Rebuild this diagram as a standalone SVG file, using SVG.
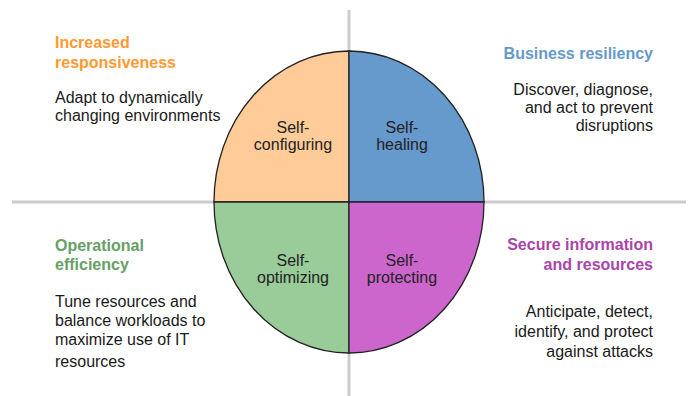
<svg xmlns="http://www.w3.org/2000/svg" width="691" height="396" viewBox="0 0 691 396">
  <style>
    .axis { stroke: #cccccc; stroke-width: 3; fill: none; }
    .quad { stroke: #222222; stroke-width: 1.3; }
    .label { font-family: "Liberation Sans", Arial, sans-serif; font-size: 16px; fill: #222222; text-anchor: middle; }
    .title { font-family: "Liberation Sans", Arial, sans-serif; font-size: 16px; font-weight: bold; }
    .body { font-family: "Liberation Sans", Arial, sans-serif; font-size: 16px; fill: #1a1a1a; }
    .end { text-anchor: end; }
  </style>
  <rect width="691" height="396" fill="#ffffff"/>

  <!-- axes behind the wheel -->
  <g id="connectors">
    <line class="axis" x1="349" y1="10" x2="349" y2="396"/>
    <line class="axis" x1="12" y1="202" x2="686" y2="202"/>
  </g>

  <!-- wheel quadrants: center (349,202), rx 135, ry 151 -->
  <g id="self-configuring">
    <path class="quad" fill="#ffcc99" d="M349,202 L214,202 A135,151 0 0 1 349,51 Z"/>
    <text class="label" x="293" y="133">Self-</text>
    <text class="label" x="293" y="150">configuring</text>
  </g>
  <g id="self-healing">
    <path class="quad" fill="#6699cc" d="M349,202 L349,51 A135,151 0 0 1 484,202 Z"/>
    <text class="label" x="402" y="133">Self-</text>
    <text class="label" x="402" y="150">healing</text>
  </g>
  <g id="self-optimizing">
    <path class="quad" fill="#99cc99" d="M349,202 L349,353 A135,151 0 0 1 214,202 Z"/>
    <text class="label" x="293" y="266">Self-</text>
    <text class="label" x="293" y="283">optimizing</text>
  </g>
  <g id="self-protecting">
    <path class="quad" fill="#cc66cc" d="M349,202 L484,202 A135,151 0 0 1 349,353 Z"/>
    <text class="label" x="402" y="266">Self-</text>
    <text class="label" x="402" y="283">protecting</text>
  </g>

  <!-- corner descriptions -->
  <g id="increased-responsiveness">
    <text class="title" fill="#ff9933" x="55" y="48">Increased</text>
    <text class="title" fill="#ff9933" x="55" y="68">responsiveness</text>
    <text class="body" x="55" y="103">Adapt to dynamically</text>
    <text class="body" x="55" y="121">changing environments</text>
  </g>
  <g id="business-resiliency">
    <text class="title end" fill="#6699cc" x="653" y="59">Business resiliency</text>
    <text class="body end" x="653" y="95">Discover, diagnose,</text>
    <text class="body end" x="653" y="113">and act to prevent</text>
    <text class="body end" x="653" y="131">disruptions</text>
  </g>
  <g id="operational-efficiency">
    <text class="title" fill="#66a066" x="55" y="251">Operational</text>
    <text class="title" fill="#66a066" x="55" y="270">efficiency</text>
    <text class="body" x="55" y="307">Tune resources and</text>
    <text class="body" x="55" y="326">balance workloads to</text>
    <text class="body" x="55" y="345">maximize use of IT</text>
    <text class="body" x="55" y="367">resources</text>
  </g>
  <g id="secure-information">
    <text class="title end" fill="#aa44aa" x="653" y="250">Secure information</text>
    <text class="title end" fill="#aa44aa" x="653" y="270">and resources</text>
    <text class="body end" x="653" y="317">Anticipate, detect,</text>
    <text class="body end" x="653" y="337">identify, and protect</text>
    <text class="body end" x="653" y="357">against attacks</text>
  </g>
</svg>
